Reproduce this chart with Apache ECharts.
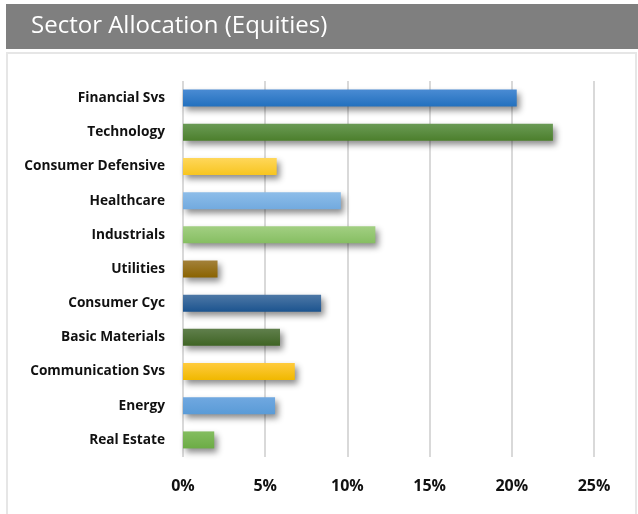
<!DOCTYPE html>
<html>
<head>
<meta charset="utf-8">
<script src="https://cdn.jsdelivr.net/npm/echarts@6/dist/echarts.min.js"></script>
<style>
  html, body { margin: 0; padding: 0; background: #fff; }
  #chart { width: 638px; height: 514px; }
</style>
</head>
<body>
<div id="chart"></div>
<script>
var sectors = ['Financial Svs', 'Technology', 'Consumer Defensive', 'Healthcare', 'Industrials',
    'Utilities', 'Consumer Cyc', 'Basic Materials', 'Communication Svs', 'Energy', 'Real Estate'];
var weights = [20.3, 22.5, 5.7, 9.6, 11.7, 2.1, 8.4, 5.9, 6.8, 5.6, 1.9];
// top / bottom colour of each bar's gradient
var barTop = ['#4a8bd3', '#6a9a55', '#ffd75a', '#8dbde9', '#a2cf82', '#a3813a', '#4e78a6', '#607f4c', '#ffcb3d', '#70a8e0', '#84bd60'];
var barBottom = ['#2270be', '#4c7f2c', '#f7c520', '#72aadf', '#86be62', '#8a6300', '#1c548f', '#3f6424', '#f0b800', '#5a9bd7', '#6cac45'];
var xTicks = [0, 5, 10, 15, 20, 25];

var chart = echarts.init(document.getElementById('chart'));

var barData = weights.map(function (v, i) {
    return {
        value: v,
        itemStyle: {
            color: new echarts.graphic.LinearGradient(0, 0, 0, 1, [
                { offset: 0, color: barTop[i] },
                { offset: 1, color: barBottom[i] }
            ])
        }
    };
});

var option = {
    animation: false,
    backgroundColor: '#fff',
    title: {
        text: 'Sector Allocation (Equities)',
        left: 26,
        top: 9,
        textStyle: {
            color: '#fff',
            fontSize: 24,
            fontWeight: 'normal',
            fontFamily: 'Open Sans'
        }
    },
    graphic: [
        {
            type: 'rect',
            z: -10,
            shape: { x: 6, y: 4, width: 632, height: 45 },
            style: { fill: '#7f7f7f' }
        },
        {
            type: 'rect',
            z: -10,
            shape: { x: 7, y: 53, width: 629, height: 470 },
            style: { fill: '#fff', stroke: '#e6e6e6', lineWidth: 2 }
        }
    ],
    grid: {
        left: 183,
        right: 44,
        top: 81,
        bottom: 57
    },
    xAxis: {
        type: 'value',
        min: 0,
        max: 25,
        interval: 5,
        axisLine: { show: false },
        axisTick: { show: false },
        splitLine: { lineStyle: { color: '#d9d9d9', width: 2 } },
        axisLabel: {
            margin: 21,
            color: '#111',
            fontSize: 16,
            fontWeight: 'bold',
            fontFamily: 'Open Sans',
            formatter: function (v) {
                return xTicks.indexOf(v) >= 0 ? v + '%' : '';
            }
        }
    },
    yAxis: {
        type: 'category',
        inverse: true,
        data: sectors,
        axisLine: { show: false },
        axisTick: { show: false },
        axisLabel: {
            margin: 18,
            color: '#111',
            fontSize: 13.7,
            fontWeight: 'bold',
            fontFamily: 'Open Sans'
        }
    },
    series: [
        {
            type: 'bar',
            data: barData,
            barWidth: 17,
            itemStyle: {
                shadowColor: 'rgba(0,0,0,0.45)',
                shadowBlur: 6,
                shadowOffsetX: 3,
                shadowOffsetY: 4
            }
        }
    ]
};

chart.setOption(option);
</script>
</body>
</html>
